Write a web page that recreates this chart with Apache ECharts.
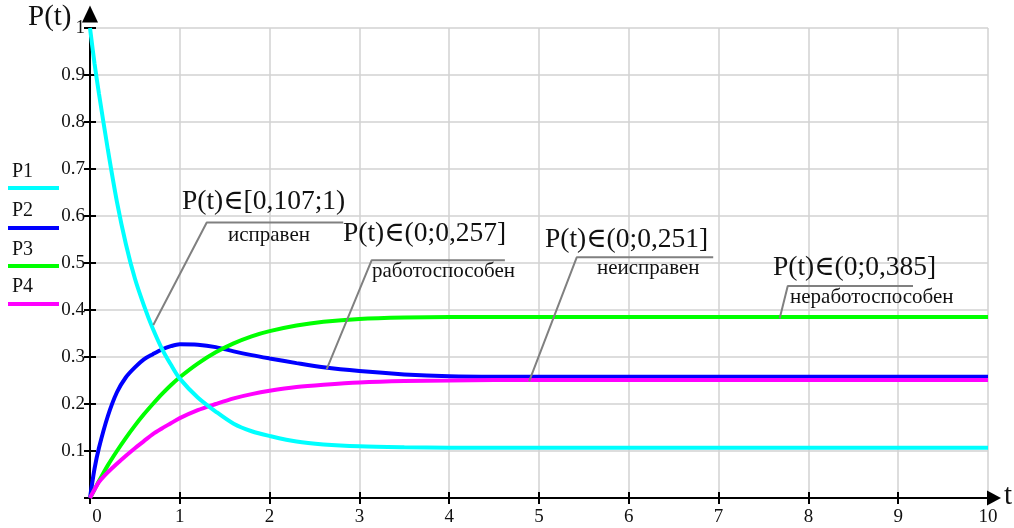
<!DOCTYPE html>
<html>
<head>
<meta charset="utf-8">
<script src="https://cdn.jsdelivr.net/npm/echarts@6/dist/echarts.min.js"></script>
<style>
html,body{margin:0;padding:0;background:#fff;}
#c{width:1014px;height:528px;}
</style>
</head>
<body>
<div id="c"></div>
<script>
// time points (t)
const T = [0, 0.05, 0.1, 0.2, 0.3, 0.4, 0.5, 0.6, 0.7, 0.8, 0.9, 1.0, 1.2, 1.4, 1.6, 1.8, 2.0, 2.3, 2.6, 3.0, 3.5, 4.0, 4.5, 5, 6, 7, 8, 9, 10];
const P1 = [1.0, 0.925, 0.86, 0.74, 0.63, 0.54, 0.467, 0.41, 0.36, 0.318, 0.284, 0.254, 0.214, 0.184, 0.158, 0.142, 0.132, 0.12, 0.114, 0.11, 0.108, 0.107, 0.107, 0.107, 0.107, 0.107, 0.107, 0.107, 0.107];
const P2 = [0, 0.062, 0.107, 0.175, 0.225, 0.257, 0.278, 0.295, 0.306, 0.316, 0.323, 0.327, 0.326, 0.321, 0.312, 0.304, 0.297, 0.287, 0.278, 0.27, 0.263, 0.259, 0.258, 0.258, 0.258, 0.258, 0.258, 0.258, 0.258];
const P3 = [0, 0.018, 0.036, 0.07, 0.1, 0.128, 0.154, 0.178, 0.2, 0.221, 0.24, 0.257, 0.286, 0.31, 0.329, 0.344, 0.355, 0.367, 0.375, 0.381, 0.384, 0.385, 0.385, 0.385, 0.385, 0.385, 0.385, 0.385, 0.385];
const P4 = [0, 0.018, 0.034, 0.055, 0.073, 0.09, 0.106, 0.121, 0.136, 0.148, 0.159, 0.17, 0.187, 0.2, 0.212, 0.221, 0.228, 0.236, 0.241, 0.246, 0.249, 0.25, 0.251, 0.251, 0.251, 0.251, 0.251, 0.251, 0.251];
const seriesNames = ['P1', 'P2', 'P3', 'P4'];
const seriesColors = ['#00ffff', '#0000ff', '#00ff00', '#ff00ff'];

// annotation texts and their leader lines (data coords: curve point, kink, underline end)
const annTitles = ['P(t)\u2208[0,107;1)', 'P(t)\u2208(0;0,257]', 'P(t)\u2208(0;0,251]', 'P(t)\u2208(0;0,385]'];
const annSubs = ['исправен', 'работоспособен', 'неисправен', 'неработоспособен'];
const annLines = [
  [[0.705, 0.368], [1.30, 0.586], [2.82, 0.586]],
  [[2.636, 0.274], [3.137, 0.506], [4.62, 0.506]],
  [[4.89, 0.248], [5.42, 0.512], [6.94, 0.512]],
  [[7.68, 0.382], [7.77, 0.451], [9.165, 0.451]]
];

const SERIF = '"Liberation Serif", "Times New Roman", "DejaVu Serif", serif';
const chart = echarts.init(document.getElementById('c'));

const zip = (ys) => T.map((t, i) => [t, ys[i]]);
const vals = [P1, P2, P3, P4];

const lineSeries = [1, 2, 3, 0].map(i => ({
  name: seriesNames[i],
  type: 'line',
  data: zip(vals[i]),
  showSymbol: false,
  smooth: 0.3,
  lineStyle: { color: seriesColors[i], width: 4 },
  itemStyle: { color: seriesColors[i] },
  z: 3,
  silent: true
}));

const leaderSeries = annLines.map(pts => ({
  type: 'line',
  data: pts,
  showSymbol: false,
  lineStyle: { color: '#808080', width: 2 },
  z: 4,
  silent: true
}));

// annotation text placement (pixels)
const annPos = [
  { x: 182, y: 202, sx: 228, sy: 235 },
  { x: 343, y: 234, sx: 372, sy: 271 },
  { x: 545, y: 240, sx: 597, sy: 268 },
  { x: 773, y: 268, sx: 790, sy: 297 }
];
const graphics = [];
annPos.forEach((p, i) => {
  graphics.push({ type: 'text', x: p.x, y: p.y, style: { text: annTitles[i], font: '27.5px ' + SERIF, fill: '#111', verticalAlign: 'middle' }, z: 10 });
  graphics.push({ type: 'text', x: p.sx, y: p.sy, style: { text: annSubs[i], font: '21px ' + SERIF, fill: '#111', verticalAlign: 'middle' }, z: 10 });
});
// legend
const legY = [[172, 188], [211, 228], [250, 266], [287, 304]];
seriesNames.forEach((n, i) => {
  graphics.push({ type: 'text', x: 12, y: legY[i][0], style: { text: n, font: '20px ' + SERIF, fill: '#111', verticalAlign: 'middle' } });
  graphics.push({ type: 'line', shape: { x1: 8, y1: legY[i][1], x2: 59, y2: legY[i][1] }, style: { stroke: seriesColors[i], lineWidth: 4 } });
});
// axis titles
graphics.push({ type: 'text', x: 28, y: 17, style: { text: 'P(t)', font: '29px ' + SERIF, fill: '#111', verticalAlign: 'middle' } });
graphics.push({ type: 'text', x: 1004, y: 496, style: { text: 't', font: '29px ' + SERIF, fill: '#111', verticalAlign: 'middle' } });

const gridColor = '#d2d2d2';
chart.setOption({
  animation: false,
  backgroundColor: '#fff',
  grid: { left: 90, right: 26, top: 28, bottom: 30 },
  xAxis: [{
    type: 'value', min: 0, max: 10, interval: 1,
    axisLine: { show: true, lineStyle: { color: '#000', width: 2 }, symbol: ['none', 'triangle'], symbolSize: [15, 14], symbolOffset: [0, 6] },
    axisTick: { show: true, length: 6, lineStyle: { color: '#000', width: 2 } },
    axisLabel: {
      margin: 10, color: '#111', fontFamily: SERIF, fontSize: 19,
      formatter: v => v === 0 ? '{z|0}' : String(v),
      rich: { z: { padding: [0, 0, 0, 14], fontFamily: SERIF, fontSize: 19, color: '#111' } }
    },
    splitLine: { show: true, lineStyle: { color: gridColor, width: 1.5 } }
  }, {
    type: 'value', min: 0, max: 10, interval: 1, position: 'bottom',
    axisLine: { show: false },
    axisTick: { show: true, inside: true, length: 6, lineStyle: { color: '#000', width: 2 } },
    axisLabel: { show: false },
    splitLine: { show: false }
  }],
  yAxis: [{
    type: 'value', min: 0, max: 1, interval: 0.1,
    axisLine: { show: true, lineStyle: { color: '#000', width: 2 }, symbol: ['none', 'triangle'], symbolSize: [16, 17], symbolOffset: [0, 14] },
    axisTick: { show: true, length: 6, lineStyle: { color: '#000', width: 2 } },
    axisLabel: {
      margin: 5, color: '#111', fontFamily: SERIF, fontSize: 19, padding: [6, 0, 0, 0],
      formatter: v => v === 0 ? '' : String(Math.round(v * 10) / 10)
    },
    splitLine: { show: true, lineStyle: { color: gridColor, width: 1.5 } }
  }, {
    type: 'value', min: 0, max: 1, interval: 0.1, position: 'left',
    axisLine: { show: false },
    axisTick: { show: true, inside: true, length: 6, lineStyle: { color: '#000', width: 2 } },
    axisLabel: { show: false },
    splitLine: { show: false }
  }],
  series: lineSeries.concat(leaderSeries),
  graphic: graphics
});
</script>
</body>
</html>
